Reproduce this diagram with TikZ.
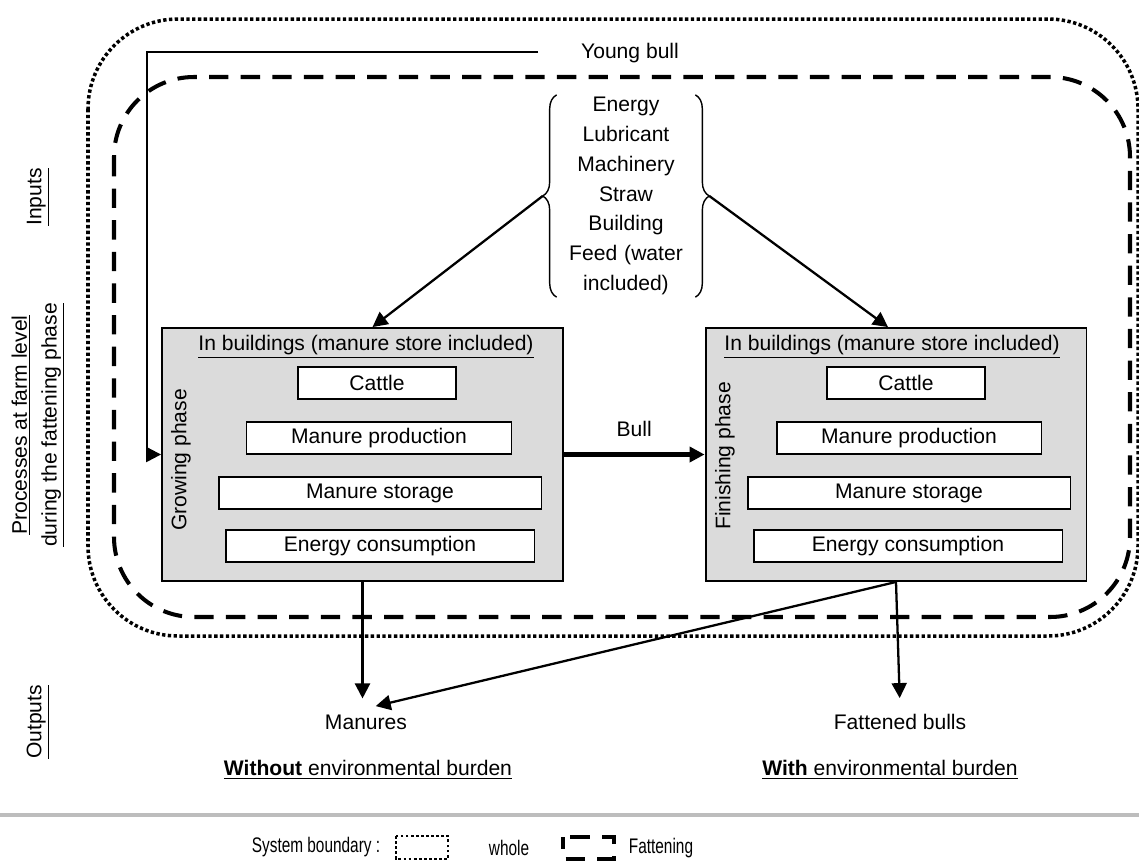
\documentclass[tikz,border=0pt]{standalone}
\usepackage{fontspec}
\usepackage{graphicx}
\setmainfont{Liberation Sans}
\usetikzlibrary{arrows.meta,decorations.pathreplacing}
\definecolor{boxgrey}{gray}{0.86}
\definecolor{rulegrey}{gray}{0.74}
\newcommand{\narrow}[1]{\scalebox{0.73}[1]{#1}}

\begin{document}
\begin{tikzpicture}[x=0.02cm, y=-0.02cm, font=\fontsize{12}{17}\selectfont,
  >={Triangle[length=0.3cm,width=0.3cm]},
  conn/.style={line width=1.3pt},
  whole/.style={line width=2pt, dash pattern=on 1.9pt off 1.4pt},
  fatten/.style={line width=2.3pt, dash pattern=on 11pt off 7pt},
  phase/.style={draw, line width=1.1pt, fill=boxgrey, minimum width=8.02cm, minimum height=5.06cm},
  item/.style={draw, line width=1.1pt, fill=white, minimum height=0.65cm, inner sep=0pt},
  side/.style={rotate=90, align=center}]
\useasboundingbox (0,0) rectangle (1139,860);
\draw[whole, rounded corners=1.8cm] (88,19) rectangle (1138,636);
\draw[fatten, rounded corners=1.6cm] (114,77) rectangle (1130,617);

\node (grow)[phase] at (362.5,454.5) {};
\node (fin)[phase, minimum width=7.62cm] at (896,454.5) {};
\node (growhead)[] at (366,347) {\underline{In buildings (manure store included)}};
\node (growcat)[item, minimum width=3.16cm] at (377,383) {Cattle};
\node (growprod)[item, minimum width=5.3cm] at (379,438) {Manure production};
\node (growstor)[item, minimum width=6.46cm] at (380,493) {Manure storage};
\node (growen)[item, minimum width=6.18cm] at (380,546) {Energy consumption};
\node (growlab)[rotate=90] at (181,460) {Growing phase};
\node (finhead)[] at (892,347) {\underline{In buildings (manure store included)}};
\node (fincat)[item, minimum width=3.16cm] at (906,383) {Cattle};
\node (finprod)[item, minimum width=5.3cm] at (909,438) {Manure production};
\node (finstor)[item, minimum width=6.46cm] at (909,493) {Manure storage};
\node (finen)[item, minimum width=6.18cm] at (908,546) {Energy consumption};
\node (finlab)[rotate=90] at (725,456) {Finishing phase};

\node (inp)[align=center, text width=2.28cm, inner xsep=0.24cm, inner ysep=1pt] at (626,196)
  {Energy\\Lubricant\\Machinery\\Straw\\Building\\Feed (water\\included)};
\draw[line width=0.8pt, decorate, decoration={brace, amplitude=0.28cm}] (inp.south west) -- (inp.north west);
\draw[line width=0.8pt, decorate, decoration={brace, amplitude=0.28cm}] (inp.north east) -- (inp.south east);
\draw[conn, ->] ([xshift=-0.28cm]inp.west) -- ([xshift=0.2cm]grow.north);
\draw[conn, ->] ([xshift=0.28cm]inp.east) -- ([xshift=-0.16cm]fin.north);

\node (yb)[] at (630,53) {Young bull};
\coordinate (ybend) at (538,52);
\draw[conn, ->] (ybend) -| ([xshift=-0.28cm]grow.west) -- (grow.west);

\draw[line width=2.3pt, ->] (grow) -- (fin) node[midway, above=0.2cm] {Bull};

\node (man)[] at (366,722) {Manures};
\node (fatt)[] at (900,722) {Fattened bulls};
\node (manburden)[] at (368,770) {\underline{\textbf{Without} environmental burden}};
\node (fattburden)[] at (890,770) {\underline{\textbf{With} environmental burden}};
\draw[conn, ->, shorten >=0.2cm] (grow.south) -- (grow.south |- man.north);
\draw[conn, ->, shorten >=0.2cm] (fin.south) -- (man.north);
\draw[conn, ->, shorten >=0.2cm] (fin.south) -- (fatt.north);

\node (inlab)[side] at (38,197) {\underline{Inputs}};
\node (proclab)[side] at (38,425) {\underline{Processes at farm level}\\\underline{during the fattening phase}};
\node (outlab)[side] at (38,722) {\underline{Outputs}};

\draw[line width=2.3pt, rulegrey] (0,815) -- (1139,815);
\node (sysb)[] at (316,847) {\narrow{System boundary :}};
\draw[whole, line width=1.6pt, dash pattern=on 1.6pt off 1.3pt] (396,836) rectangle (448,859);
\node (wholelab)[] at (509,848) {\narrow{whole}};
\draw[fatten, dash phase=4pt] (563,837) rectangle (614,859);
\node (fatlab)[] at (661,848) {\narrow{Fattening}};
\end{tikzpicture}
\end{document}
